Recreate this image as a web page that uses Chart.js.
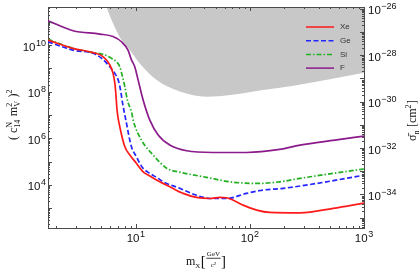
<!DOCTYPE html>
<html>
<head>
<meta charset="utf-8">
<script src="https://cdn.jsdelivr.net/npm/chart.js@4.4.0/dist/chart.umd.min.js"></script>
<style>
  html, body { margin: 0; padding: 0; background: #fff; }
  canvas { display: block; }
</style>
</head>
<body>
<canvas id="limits-chart" width="419" height="273"></canvas>
<script>
// WIMP mass in GeV/c^2 and limit on (c14 mV^2)^2, one pair of arrays per target
var xeMass = [1.7, 2.82, 4.22, 5.16, 5.92, 6.31, 6.55, 6.68, 6.85, 7.24, 8.02, 8.87, 10.14, 11.59, 13.27, 16.22, 19.86, 26.0, 33.9, 44.7, 54.6, 62.5, 71.6, 87.1, 114.8, 149.6, 275, 537, 1000];
var xeLimit = [1.62e10, 7.2e9, 4.7e9, 3.2e9, 1.4e9, 6.2e8, 2.3e8, 8.5e7, 1.6e7, 3.1e6, 4.3e5, 1.9e5, 8.3e4, 3.6e4, 2.4e4, 1.35e4, 8.3e3, 4.3e3, 2.9e3, 2.6e3, 2.9e3, 2.8e3, 2.2e3, 1.35e3, 830, 660, 630, 980, 1660];

var geMass = [1.7, 2.82, 4.22, 5.01, 5.92, 6.55, 7.0, 7.35, 7.66, 8.18, 9.16, 10.14, 10.84, 11.59, 13.27, 15.7, 17.38, 24.3, 33.9, 44.7, 62.5, 93.3, 130.9, 195, 385, 1000];
var geLimit = [1.38e10, 6.0e9, 4.4e9, 2.7e9, 1.17e9, 6.0e8, 3.2e8, 1.17e8, 3.2e7, 6.0e6, 4.3e5, 1.6e5, 8.3e4, 5.1e4, 3.1e4, 1.9e4, 1.35e4, 7.1e3, 3.6e3, 2.6e3, 2.6e3, 4.3e3, 6.0e3, 7.1e3, 1.15e4, 2.6e4];

var siMass = [1.7, 2.82, 4.22, 5.16, 6.12, 6.76, 7.24, 7.64, 8.02, 8.43, 9.23, 9.48, 11.22, 14.19, 18.62, 24.3, 41.7, 66.8, 114.8, 182, 275, 537, 1000];
var siLimit = [1.74e10, 7.2e9, 4.7e9, 4.0e9, 2.7e9, 1.9e9, 1.17e9, 4.4e8, 1.6e8, 4.4e7, 1.17e7, 6.0e6, 8.3e5, 1.9e5, 5.2e4, 3.5e4, 2.1e4, 1.35e4, 1.15e4, 1.35e4, 1.9e4, 3.1e4, 4.8e4];

var fMass = [1.7, 2.82, 4.83, 6.31, 7.48, 8.55, 9.16, 9.79, 10.47, 11.59, 13.27, 15.7, 19.86, 27.9, 47.3, 93.3, 182, 275, 556, 1000];
var fLimit = [1.1e11, 4.1e10, 2.95e10, 2.3e10, 1.38e10, 6.0e9, 2.3e9, 1.17e9, 3.2e8, 4.4e7, 6.0e6, 1.38e6, 5.1e5, 2.9e5, 2.45e5, 2.45e5, 3.3e5, 5.1e5, 8.3e5, 1.23e6];

// lower edge of the grey excluded band
var excludedMass = [5.53, 6.31, 7.48, 8.87, 10.84, 15.14, 24.3, 41.7, 66.8, 130.9, 257, 501, 1000];
var excludedLimit = [4.27e11, 8.5e10, 1.62e10, 6.0e9, 1.6e9, 3.2e8, 1.0e8, 6.0e7, 7.1e7, 1.17e8, 1.9e8, 3.4e8, 6.5e8];

var series = ["Xe", "Ge", "Si", "F"];
var colors = ["#ff1a1a", "#2424ff", "#22b022", "#8b1a8b"];
var dashes = [[], [5, 2.5], [5, 2, 1.5, 2], []];

// labelled decades on each axis
var xLabelled = [10, 100, 1000];
var yLabelled = [1e4, 1e6, 1e8, 1e10];
var y2Labelled = [1e-34, 1e-32, 1e-30, 1e-28, 1e-26];

function isIn(list, v) {
  return list.some(function (l) { return Math.abs(v / l - 1) < 1e-6; });
}
function logTicks(scale) {
  var ticks = [];
  var lo = Math.floor(Math.log10(scale.min)), hi = Math.ceil(Math.log10(scale.max));
  for (var e = lo; e <= hi; e++) {
    for (var m = 1; m <= 9; m++) {
      var v = Number(m + "e" + e);
      if (v >= scale.min * 0.9999 && v <= scale.max * 1.0001) ticks.push({ value: v });
    }
  }
  scale.ticks = ticks;
}
function pts(m, v) {
  return m.map(function (x, i) { return { x: x, y: v[i] }; });
}

var sansFont = "'Liberation Sans', Arial, sans-serif";
var serifFont = "'Liberation Serif', serif";
var axisColor = "#4a4a4a";

// "10" with a raised exponent; (x, y) is the anchor, y the middle of the label
function drawPower(ctx, v, x, y, align) {
  var e = String(Math.round(Math.log10(v))).replace("-", "\u2212");
  ctx.font = "11.5px " + sansFont;
  var wb = ctx.measureText("10").width;
  ctx.font = "9px " + sansFont;
  var we = ctx.measureText(e).width;
  var w = wb + we + 0.5;
  var x0 = align === "right" ? x - w : align === "left" ? x : x - w / 2;
  var base = y + 5.6;
  ctx.font = "11.5px " + sansFont;
  ctx.fillText("10", x0, base);
  ctx.font = "9px " + sansFont;
  ctx.fillText(e, x0 + wb + 0.5, base - 5);
}

// pieces of text with sub/superscripts, drawn left to right from (x, y)
function drawParts(ctx, parts, x, y, base, small, measureOnly) {
  var cx = x;
  parts.forEach(function (p) {
    var w = 0;
    if (p.t) {
      ctx.font = (p.size || base) + "px " + serifFont;
      w = ctx.measureText(p.t).width;
      if (!measureOnly) ctx.fillText(p.t, cx, y + (p.dy || 0));
    } else if (p.num) {
      ctx.font = small + "px " + serifFont;
      var wn = ctx.measureText(p.num).width, wd = ctx.measureText(p.den).width;
      w = Math.max(wn, wd) + 2;
      if (!measureOnly) {
        ctx.fillText(p.num, cx + (w - wn) / 2, y - base * 0.72);
        ctx.fillText(p.den, cx + (w - wd) / 2, y + base * 0.2);
        ctx.fillRect(cx + 0.5, y - base * 0.6, w - 1, 0.8);
      }
    } else {
      ctx.font = small + "px " + serifFont;
      var wu = p.up ? ctx.measureText(p.up).width : 0;
      var wl = p.dn ? ctx.measureText(p.dn).width : 0;
      if (!measureOnly) {
        if (p.up) ctx.fillText(p.up, cx, y - base * 0.42);
        if (p.dn) ctx.fillText(p.dn, cx, y + base * 0.28);
      }
      w = Math.max(wu, wl) + 0.5;
    }
    cx += w;
  });
  return cx - x;
}
function drawCentered(ctx, parts, base, small) {
  var w = drawParts(ctx, parts, 0, 0, base, small, true);
  drawParts(ctx, parts, -w / 2, 0, base, small, false);
}

var extras = {
  id: "extras",
  afterDraw: function (chart) {
    var ctx = chart.ctx, a = chart.chartArea;
    var sx = chart.scales.x, sy = chart.scales.y, sy2 = chart.scales.y2;
    ctx.save();
    // frame and ticks pointing inwards
    ctx.strokeStyle = axisColor;
    ctx.lineWidth = 1;
    ctx.beginPath();
    ctx.moveTo(a.left, a.top + 0.5);
    ctx.lineTo(a.right, a.top + 0.5);
    function len(v) {
      var e = Math.log10(v);
      return Math.abs(e - Math.round(e)) < 1e-6 ? 4 : 2;
    }
    sx.ticks.forEach(function (t) {
      var p = Math.round(sx.getPixelForValue(t.value)) + 0.5, l = len(t.value);
      ctx.moveTo(p, a.bottom); ctx.lineTo(p, a.bottom - l);
      ctx.moveTo(p, a.top); ctx.lineTo(p, a.top + l);
    });
    sy.ticks.forEach(function (t) {
      var p = Math.round(sy.getPixelForValue(t.value)) + 0.5;
      ctx.moveTo(a.left, p); ctx.lineTo(a.left + len(t.value), p);
    });
    sy2.ticks.forEach(function (t) {
      var p = Math.round(sy2.getPixelForValue(t.value)) + 0.5;
      ctx.moveTo(a.right, p); ctx.lineTo(a.right - len(t.value), p);
    });
    ctx.stroke();

    // tick labels
    ctx.fillStyle = "#111";
    ctx.textBaseline = "alphabetic";
    xLabelled.forEach(function (v) { drawPower(ctx, v, sx.getPixelForValue(v), a.bottom + 8.5, "center"); });
    yLabelled.forEach(function (v) { drawPower(ctx, v, a.left - 2, sy.getPixelForValue(v), "right"); });
    y2Labelled.forEach(function (v) { drawPower(ctx, v, a.right + 4, sy2.getPixelForValue(v), "left"); });

    // legend inside the plot
    ctx.font = "8px " + sansFont;
    ctx.textBaseline = "middle";
    series.forEach(function (name, i) {
      var y = a.top + 20 + i * 13.7;
      ctx.strokeStyle = colors[i];
      ctx.lineWidth = 1.5;
      ctx.setLineDash(dashes[i]);
      ctx.beginPath();
      ctx.moveTo(a.right - 58, y);
      ctx.lineTo(a.right - 30, y);
      ctx.stroke();
      ctx.setLineDash([]);
      ctx.fillStyle = "#333";
      ctx.fillText(name, a.right - 24, y);
    });

    // axis titles
    ctx.fillStyle = "#111";
    ctx.textBaseline = "alphabetic";
    ctx.save();
    ctx.translate(17, (a.top + a.bottom) / 2 - 3);
    ctx.rotate(-Math.PI / 2);
    drawCentered(ctx, [{ t: "( c" }, { up: "N", dn: "14" }, { t: " m" }, { up: "2", dn: "V" }, { t: " )" }, { up: "2" }], 12, 8);
    ctx.restore();

    ctx.save();
    ctx.translate(416, (a.top + a.bottom) / 2 + 3);
    ctx.rotate(-Math.PI / 2);
    drawCentered(ctx, [{ t: "σ̄" }, { dn: "n" }, { t: " [cm" }, { up: "2" }, { t: "]" }], 12, 8);
    ctx.restore();

    ctx.save();
    ctx.translate((a.left + a.right) / 2, 265);
    drawCentered(ctx, [{ t: "m" }, { dn: "X" }, { t: "[", size: 15, dy: 1 }, { num: "GeV", den: "c²" }, { t: "]", size: 15, dy: 1 }], 12, 7);
    ctx.restore();
    ctx.restore();
  }
};

var lines = [
  [xeMass, xeLimit], [geMass, geLimit], [siMass, siLimit], [fMass, fLimit]
].map(function (d, i) {
  return {
    label: series[i],
    data: pts(d[0], d[1]),
    borderColor: colors[i],
    borderWidth: 1.7,
    borderDash: dashes[i],
    pointRadius: 0,
    fill: false,
    cubicInterpolationMode: "monotone",
    yAxisID: "y",
    order: 1
  };
});
lines.push({
  label: "excluded",
  data: pts(excludedMass, excludedLimit),
  borderWidth: 0,
  borderColor: "rgba(0,0,0,0)",
  backgroundColor: "#c8c8c8",
  pointRadius: 0,
  fill: "end",
  cubicInterpolationMode: "monotone",
  yAxisID: "y",
  order: 5
});

var hiddenTicks = { display: false };
var chart = new Chart(document.getElementById("limits-chart"), {
  type: "line",
  data: { datasets: lines },
  options: {
    responsive: false,
    animation: false,
    devicePixelRatio: 1,
    layout: { padding: { top: 7, left: 0, right: 0, bottom: 0 } },
    plugins: { legend: { display: false }, tooltip: { enabled: false } },
    scales: {
      x: {
        type: "logarithmic",
        min: 1.7,
        max: 1000,
        afterBuildTicks: logTicks,
        afterFit: function (s) { s.height = 45; },
        grid: { display: false, drawTicks: false },
        border: { color: axisColor },
        ticks: hiddenTicks
      },
      y: {
        type: "logarithmic",
        position: "left",
        min: 141,
        max: 4.27e11,
        afterBuildTicks: logTicks,
        afterFit: function (s) { s.width = 48; },
        grid: { display: false, drawTicks: false },
        border: { color: axisColor },
        ticks: hiddenTicks
      },
      y2: {
        type: "logarithmic",
        position: "right",
        min: 3.6e-36,
        max: 1.2e-26,
        afterBuildTicks: logTicks,
        afterFit: function (s) { s.width = 55; },
        grid: { display: false, drawTicks: false },
        border: { color: axisColor },
        ticks: hiddenTicks
      }
    }
  },
  plugins: [extras]
});
</script>
</body>
</html>
